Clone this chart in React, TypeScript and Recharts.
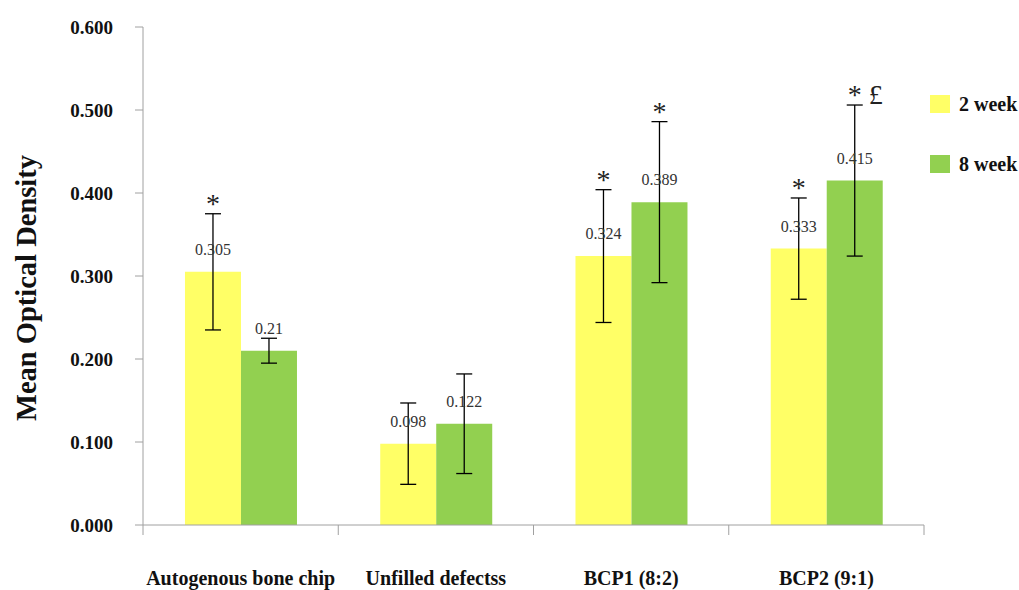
import { BarChart, Bar, XAxis, YAxis, ErrorBar, LabelList, Legend, Label } from "recharts";

const categories = ["Autogenous bone chip", "Unfilled defectss", "BCP1 (8:2)", "BCP2 (9:1)"];
const week2 = [0.305, 0.098, 0.324, 0.333];
const week8 = [0.21, 0.122, 0.389, 0.415];
const week2Err = [0.07, 0.049, 0.08, 0.061];
const week8Err = [0.015, 0.06, 0.097, 0.091];
const week2Marks = ["*", "", "*", "*"];
const week8Marks = ["", "", "*", "* £"];
const yTicks = [0, 0.1, 0.2, 0.3, 0.4, 0.5, 0.6];

const data = categories.map((name, i) => ({
  name,
  w2: week2[i],
  w8: week8[i],
  w2Err: week2Err[i],
  w8Err: week8Err[i],
}));

const FONT = "'Liberation Serif', 'Times New Roman', serif";
const YELLOW = "#ffff66";
const GREEN = "#92d050";
const AXIS = "#a0a0a0";

function makeLabel(errs: number[], marks: string[]) {
  return (props: any) => {
    const { x, y, width, height, value, index } = props;
    const cx = x + width / 2;
    const perUnit = height / value;
    const errTop = y - errs[index] * perUnit;
    const mark = marks[index];
    return (
      <g>
        <text x={cx} y={y - 17} textAnchor="middle" fontFamily={FONT} fontSize={16} fill="#333">
          {String(value)}
        </text>
        {mark && (
          <text
            x={cx}
            y={errTop - 1}
            textAnchor={mark.length > 1 ? "start" : "middle"}
            dx={mark.length > 1 ? -7 : 0}
            fontFamily={FONT}
            fontSize={28}
            fill="#222"
          >
            {mark}
          </text>
        )}
      </g>
    );
  };
}

// category label in the middle, tick marks on the category boundaries
function CategoryTick(props: any) {
  const { x, y, payload, index, visibleTicksCount } = props;
  const n = visibleTicksCount || categories.length;
  const half = (props.width ?? 0) / n / 2;
  const axisY = y - 46;
  return (
    <g>
      <line x1={x - half} x2={x - half} y1={axisY} y2={axisY + 10} stroke={AXIS} />
      {index === n - 1 && <line x1={x + half} x2={x + half} y1={axisY} y2={axisY + 10} stroke={AXIS} />}
      <text x={x} y={y} dy="0.71em" textAnchor="middle" fontFamily={FONT} fontSize={20} fontWeight="bold" fill="#111">
        {payload.value}
      </text>
    </g>
  );
}

function LegendBox() {
  const items = [
    { label: "2 week", color: YELLOW },
    { label: "8 week", color: GREEN },
  ];
  return (
    <div style={{ fontFamily: FONT }}>
      {items.map((it) => (
        <div key={it.label} style={{ display: "flex", alignItems: "center", height: 18, marginBottom: 42 }}>
          <span style={{ width: 20, height: 18, background: it.color, display: "inline-block", marginRight: 9 }} />
          <span style={{ fontWeight: "bold", fontSize: 20, color: "#111", whiteSpace: "nowrap" }}>{it.label}</span>
        </div>
      ))}
    </div>
  );
}

export default function App() {
  return (
    <div style={{ position: "absolute", left: 0, top: 0, background: "#fff" }}>
      <BarChart
        width={1019}
        height={590}
        data={data}
        margin={{ top: 27, right: 5, bottom: 0, left: 0 }}
        barCategoryGap="21.5%"
        barGap={0}
      >
        <XAxis
          dataKey="name"
          height={65}
          tickLine={false}
          axisLine={{ stroke: AXIS }}
          tickMargin={40}
          tick={<CategoryTick />}
          interval={0}
        />
        <YAxis
          width={143}
          domain={[0, 0.6]}
          ticks={yTicks}
          tickFormatter={(v: number) => v.toFixed(3)}
          tickSize={8}
          tickMargin={22}
          tickLine={{ stroke: AXIS }}
          axisLine={{ stroke: AXIS }}
          tick={{ fontFamily: FONT, fontSize: 19, fontWeight: "bold", fill: "#111" }}
        >
          <Label
            content={({ viewBox }: any) => (
              <text
                x={viewBox.x + 26}
                y={viewBox.y + viewBox.height / 2 + 12}
                transform={`rotate(-90, ${viewBox.x + 26}, ${viewBox.y + viewBox.height / 2 + 12})`}
                textAnchor="middle"
                dominantBaseline="central"
                fontFamily={FONT}
                fontSize={28.5}
                fontWeight="bold"
                fill="#111"
              >
                Mean Optical Density
              </text>
            )}
          />
        </YAxis>
        <Legend
          content={<LegendBox />}
          layout="vertical"
          verticalAlign="top"
          align="right"
          wrapperStyle={{ position: "absolute", left: 930, top: 95, width: 90 }}
        />
        <Bar dataKey="w2" name="2 week" fill={YELLOW} isAnimationActive={false}>
          <ErrorBar dataKey="w2Err" width={8} stroke="#000" strokeWidth={1.3} direction="y" />
          <LabelList dataKey="w2" content={makeLabel(week2Err, week2Marks)} />
        </Bar>
        <Bar dataKey="w8" name="8 week" fill={GREEN} isAnimationActive={false}>
          <ErrorBar dataKey="w8Err" width={8} stroke="#000" strokeWidth={1.3} direction="y" />
          <LabelList dataKey="w8" content={makeLabel(week8Err, week8Marks)} />
        </Bar>
      </BarChart>
    </div>
  );
}
